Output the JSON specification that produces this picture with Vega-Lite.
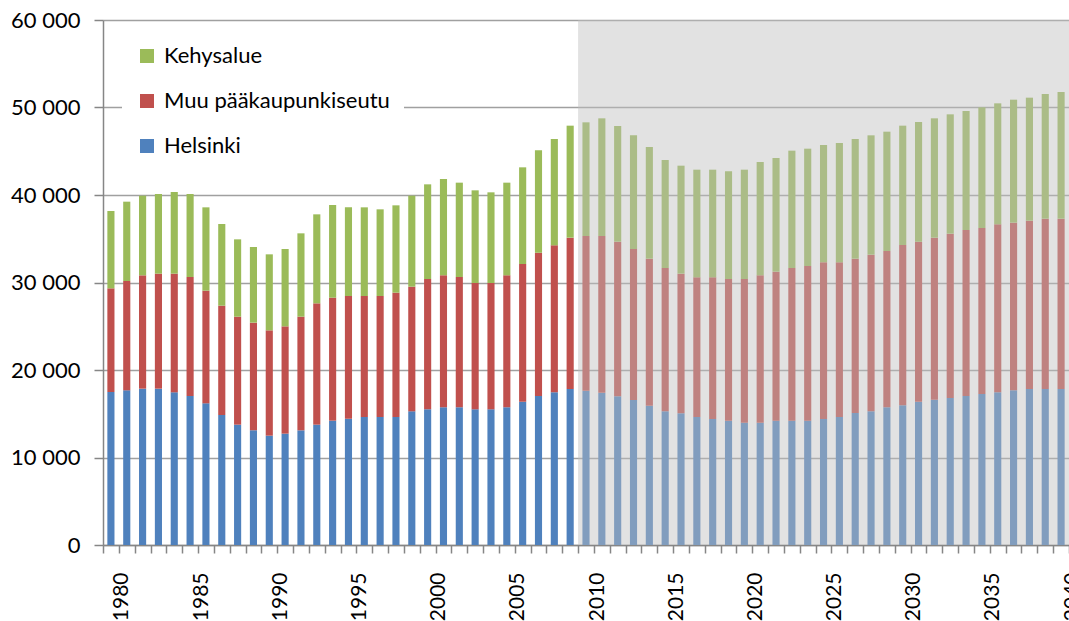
{
  "$schema": "https://vega.github.io/schema/vega-lite/v6.json",
  "width": 966,
  "height": 525,
  "autosize": {"type": "none"},
  "padding": {"left": 103, "top": 20, "right": 0, "bottom": 76},
  "background": "white",
  "config": {"view": {"stroke": null}, "font": "Lato"},
  "datasets": {
    "seriesOrder": [
      {"series": "Helsinki", "rank": 1},
      {"series": "Muu pääkaupunkiseutu", "rank": 2},
      {"series": "Kehysalue", "rank": 3}
    ]
  },
  "data": {"values": [
    {"year": 1980, "Helsinki": 17486, "Muu pääkaupunkiseutu": 11848, "Kehysalue": 8837},
    {"year": 1981, "Helsinki": 17676, "Muu pääkaupunkiseutu": 12495, "Kehysalue": 9067},
    {"year": 1982, "Helsinki": 17867, "Muu pääkaupunkiseutu": 12952, "Kehysalue": 9105},
    {"year": 1983, "Helsinki": 17867, "Muu pääkaupunkiseutu": 13143, "Kehysalue": 9104},
    {"year": 1984, "Helsinki": 17448, "Muu pääkaupunkiseutu": 13562, "Kehysalue": 9333},
    {"year": 1985, "Helsinki": 17029, "Muu pääkaupunkiseutu": 13600, "Kehysalue": 9485},
    {"year": 1986, "Helsinki": 16190, "Muu pääkaupunkiseutu": 12877, "Kehysalue": 9523},
    {"year": 1987, "Helsinki": 14857, "Muu pääkaupunkiseutu": 12495, "Kehysalue": 9334},
    {"year": 1988, "Helsinki": 13752, "Muu pääkaupunkiseutu": 12343, "Kehysalue": 8838},
    {"year": 1989, "Helsinki": 13105, "Muu pääkaupunkiseutu": 12305, "Kehysalue": 8647},
    {"year": 1990, "Helsinki": 12495, "Muu pääkaupunkiseutu": 12038, "Kehysalue": 8686},
    {"year": 1991, "Helsinki": 12724, "Muu pääkaupunkiseutu": 12266, "Kehysalue": 8839},
    {"year": 1992, "Helsinki": 13105, "Muu pääkaupunkiseutu": 12990, "Kehysalue": 9524},
    {"year": 1993, "Helsinki": 13752, "Muu pääkaupunkiseutu": 13867, "Kehysalue": 10171},
    {"year": 1994, "Helsinki": 14210, "Muu pääkaupunkiseutu": 14057, "Kehysalue": 10590},
    {"year": 1995, "Helsinki": 14438, "Muu pääkaupunkiseutu": 14019, "Kehysalue": 10133},
    {"year": 1996, "Helsinki": 14629, "Muu pääkaupunkiseutu": 13828, "Kehysalue": 10133},
    {"year": 1997, "Helsinki": 14629, "Muu pääkaupunkiseutu": 13828, "Kehysalue": 9905},
    {"year": 1998, "Helsinki": 14629, "Muu pääkaupunkiseutu": 14209, "Kehysalue": 9981},
    {"year": 1999, "Helsinki": 15276, "Muu pääkaupunkiseutu": 14248, "Kehysalue": 10400},
    {"year": 2000, "Helsinki": 15505, "Muu pääkaupunkiseutu": 14895, "Kehysalue": 10819},
    {"year": 2001, "Helsinki": 15733, "Muu pääkaupunkiseutu": 15086, "Kehysalue": 11010},
    {"year": 2002, "Helsinki": 15733, "Muu pääkaupunkiseutu": 14896, "Kehysalue": 10781},
    {"year": 2003, "Helsinki": 15505, "Muu pääkaupunkiseutu": 14438, "Kehysalue": 10590},
    {"year": 2004, "Helsinki": 15505, "Muu pääkaupunkiseutu": 14438, "Kehysalue": 10362},
    {"year": 2005, "Helsinki": 15733, "Muu pääkaupunkiseutu": 15086, "Kehysalue": 10591},
    {"year": 2006, "Helsinki": 16381, "Muu pääkaupunkiseutu": 15733, "Kehysalue": 11048},
    {"year": 2007, "Helsinki": 17029, "Muu pääkaupunkiseutu": 16381, "Kehysalue": 11695},
    {"year": 2008, "Helsinki": 17448, "Muu pääkaupunkiseutu": 16800, "Kehysalue": 12152},
    {"year": 2009, "Helsinki": 17829, "Muu pääkaupunkiseutu": 17295, "Kehysalue": 12800},
    {"year": 2010, "Helsinki": 17638, "Muu pääkaupunkiseutu": 17676, "Kehysalue": 12991},
    {"year": 2011, "Helsinki": 17410, "Muu pääkaupunkiseutu": 17904, "Kehysalue": 13448},
    {"year": 2012, "Helsinki": 16991, "Muu pääkaupunkiseutu": 17676, "Kehysalue": 13219},
    {"year": 2013, "Helsinki": 16571, "Muu pääkaupunkiseutu": 17258, "Kehysalue": 12990},
    {"year": 2014, "Helsinki": 15924, "Muu pääkaupunkiseutu": 16800, "Kehysalue": 12762},
    {"year": 2015, "Helsinki": 15276, "Muu pääkaupunkiseutu": 16381, "Kehysalue": 12343},
    {"year": 2016, "Helsinki": 15048, "Muu pääkaupunkiseutu": 15962, "Kehysalue": 12342},
    {"year": 2017, "Helsinki": 14629, "Muu pääkaupunkiseutu": 15961, "Kehysalue": 12305},
    {"year": 2018, "Helsinki": 14400, "Muu pääkaupunkiseutu": 16190, "Kehysalue": 12305},
    {"year": 2019, "Helsinki": 14210, "Muu pääkaupunkiseutu": 16190, "Kehysalue": 12305},
    {"year": 2020, "Helsinki": 13981, "Muu pääkaupunkiseutu": 16419, "Kehysalue": 12495},
    {"year": 2021, "Helsinki": 13981, "Muu pääkaupunkiseutu": 16838, "Kehysalue": 12952},
    {"year": 2022, "Helsinki": 14210, "Muu pääkaupunkiseutu": 17028, "Kehysalue": 12991},
    {"year": 2023, "Helsinki": 14210, "Muu pääkaupunkiseutu": 17447, "Kehysalue": 13410},
    {"year": 2024, "Helsinki": 14210, "Muu pääkaupunkiseutu": 17676, "Kehysalue": 13409},
    {"year": 2025, "Helsinki": 14400, "Muu pääkaupunkiseutu": 17905, "Kehysalue": 13409},
    {"year": 2026, "Helsinki": 14629, "Muu pääkaupunkiseutu": 17676, "Kehysalue": 13638},
    {"year": 2027, "Helsinki": 15086, "Muu pääkaupunkiseutu": 17638, "Kehysalue": 13676},
    {"year": 2028, "Helsinki": 15276, "Muu pääkaupunkiseutu": 17905, "Kehysalue": 13638},
    {"year": 2029, "Helsinki": 15733, "Muu pääkaupunkiseutu": 17867, "Kehysalue": 13638},
    {"year": 2030, "Helsinki": 15962, "Muu pääkaupunkiseutu": 18324, "Kehysalue": 13638},
    {"year": 2031, "Helsinki": 16381, "Muu pääkaupunkiseutu": 18286, "Kehysalue": 13676},
    {"year": 2032, "Helsinki": 16610, "Muu pääkaupunkiseutu": 18514, "Kehysalue": 13638},
    {"year": 2033, "Helsinki": 16800, "Muu pääkaupunkiseutu": 18781, "Kehysalue": 13638},
    {"year": 2034, "Helsinki": 17029, "Muu pääkaupunkiseutu": 18971, "Kehysalue": 13600},
    {"year": 2035, "Helsinki": 17257, "Muu pääkaupunkiseutu": 18972, "Kehysalue": 13790},
    {"year": 2036, "Helsinki": 17448, "Muu pääkaupunkiseutu": 19200, "Kehysalue": 13828},
    {"year": 2037, "Helsinki": 17676, "Muu pääkaupunkiseutu": 19162, "Kehysalue": 14057},
    {"year": 2038, "Helsinki": 17829, "Muu pääkaupunkiseutu": 19238, "Kehysalue": 14057},
    {"year": 2039, "Helsinki": 17829, "Muu pääkaupunkiseutu": 19466, "Kehysalue": 14248},
    {"year": 2040, "Helsinki": 17829, "Muu pääkaupunkiseutu": 19466, "Kehysalue": 14476}
  ]},
  "layer": [
    {
      "transform": [
        {"fold": ["Helsinki", "Muu pääkaupunkiseutu", "Kehysalue"], "as": ["series", "value"]},
        {"lookup": "series", "from": {"data": {"name": "seriesOrder"}, "key": "series", "fields": ["rank"]}}
      ],
      "mark": {"type": "bar", "width": {"band": 0.45}},
      "encoding": {
        "x": {
          "field": "year", "type": "ordinal",
          "scale": {"paddingInner": 0, "paddingOuter": 0},
          "axis": {
            "title": null, "tickBand": "extent", "labelOverlap": false,
            "labelExpr": "datum.value % 5 === 0 ? datum.label : ''",
            "labelAngle": -90, "labelAlign": "right", "labelBaseline": "top",
            "tickSize": 8, "tickColor": "#868686", "tickWidth": 1.5,
            "domainColor": "#868686", "domainWidth": 1.5,
            "labelPadding": 19, "labelFontSize": 21, "labelColor": "black", "labelFont": "Lato",
            "grid": false
          }
        },
        "y": {
          "field": "value", "type": "quantitative", "stack": "zero",
          "scale": {"domain": [0, 60000], "nice": false},
          "axis": {
            "title": null, "tickCount": 6,
            "labelExpr": "replace(format(datum.value, ','), ',', ' ')",
            "grid": true, "gridColor": "#a0a0a0", "gridWidth": 1.5,
            "domainColor": "#868686", "domainWidth": 1.5,
            "tickColor": "#868686", "tickWidth": 1.5, "tickSize": 9,
            "labelPadding": 14, "labelFontSize": 22, "labelColor": "black", "labelFont": "Lato"
          }
        },
        "order": {"field": "rank", "type": "quantitative", "sort": "ascending"},
        "color": {
          "field": "series", "type": "nominal",
          "scale": {"domain": ["Kehysalue", "Muu pääkaupunkiseutu", "Helsinki"], "range": ["#9BBB59", "#C0504D", "#4F81BD"]},
          "legend": {
            "title": null, "orient": "none", "legendX": 19, "legendY": 11,
            "fillColor": "white", "padding": 14,
            "symbolType": "square", "symbolSize": 196, "symbolStrokeWidth": 0,
            "labelFontSize": 22, "labelFont": "Lato", "labelColor": "black", "labelLimit": 500,
            "rowPadding": 23, "labelOffset": 6
          }
        }
      }
    },
    {
      "data": {"values": [{"from": 2009.5, "to": 2040.5}]},
      "mark": {"type": "rect", "color": "#bebebe", "opacity": 0.45},
      "encoding": {
        "x": {"field": "from", "type": "quantitative", "scale": {"domain": [1979.5, 2040.5], "nice": false, "zero": false}, "axis": null},
        "x2": {"field": "to"},
        "y": {"datum": 60000},
        "y2": {"datum": 0}
      }
    }
  ],
  "resolve": {"scale": {"x": "independent"}}
}
